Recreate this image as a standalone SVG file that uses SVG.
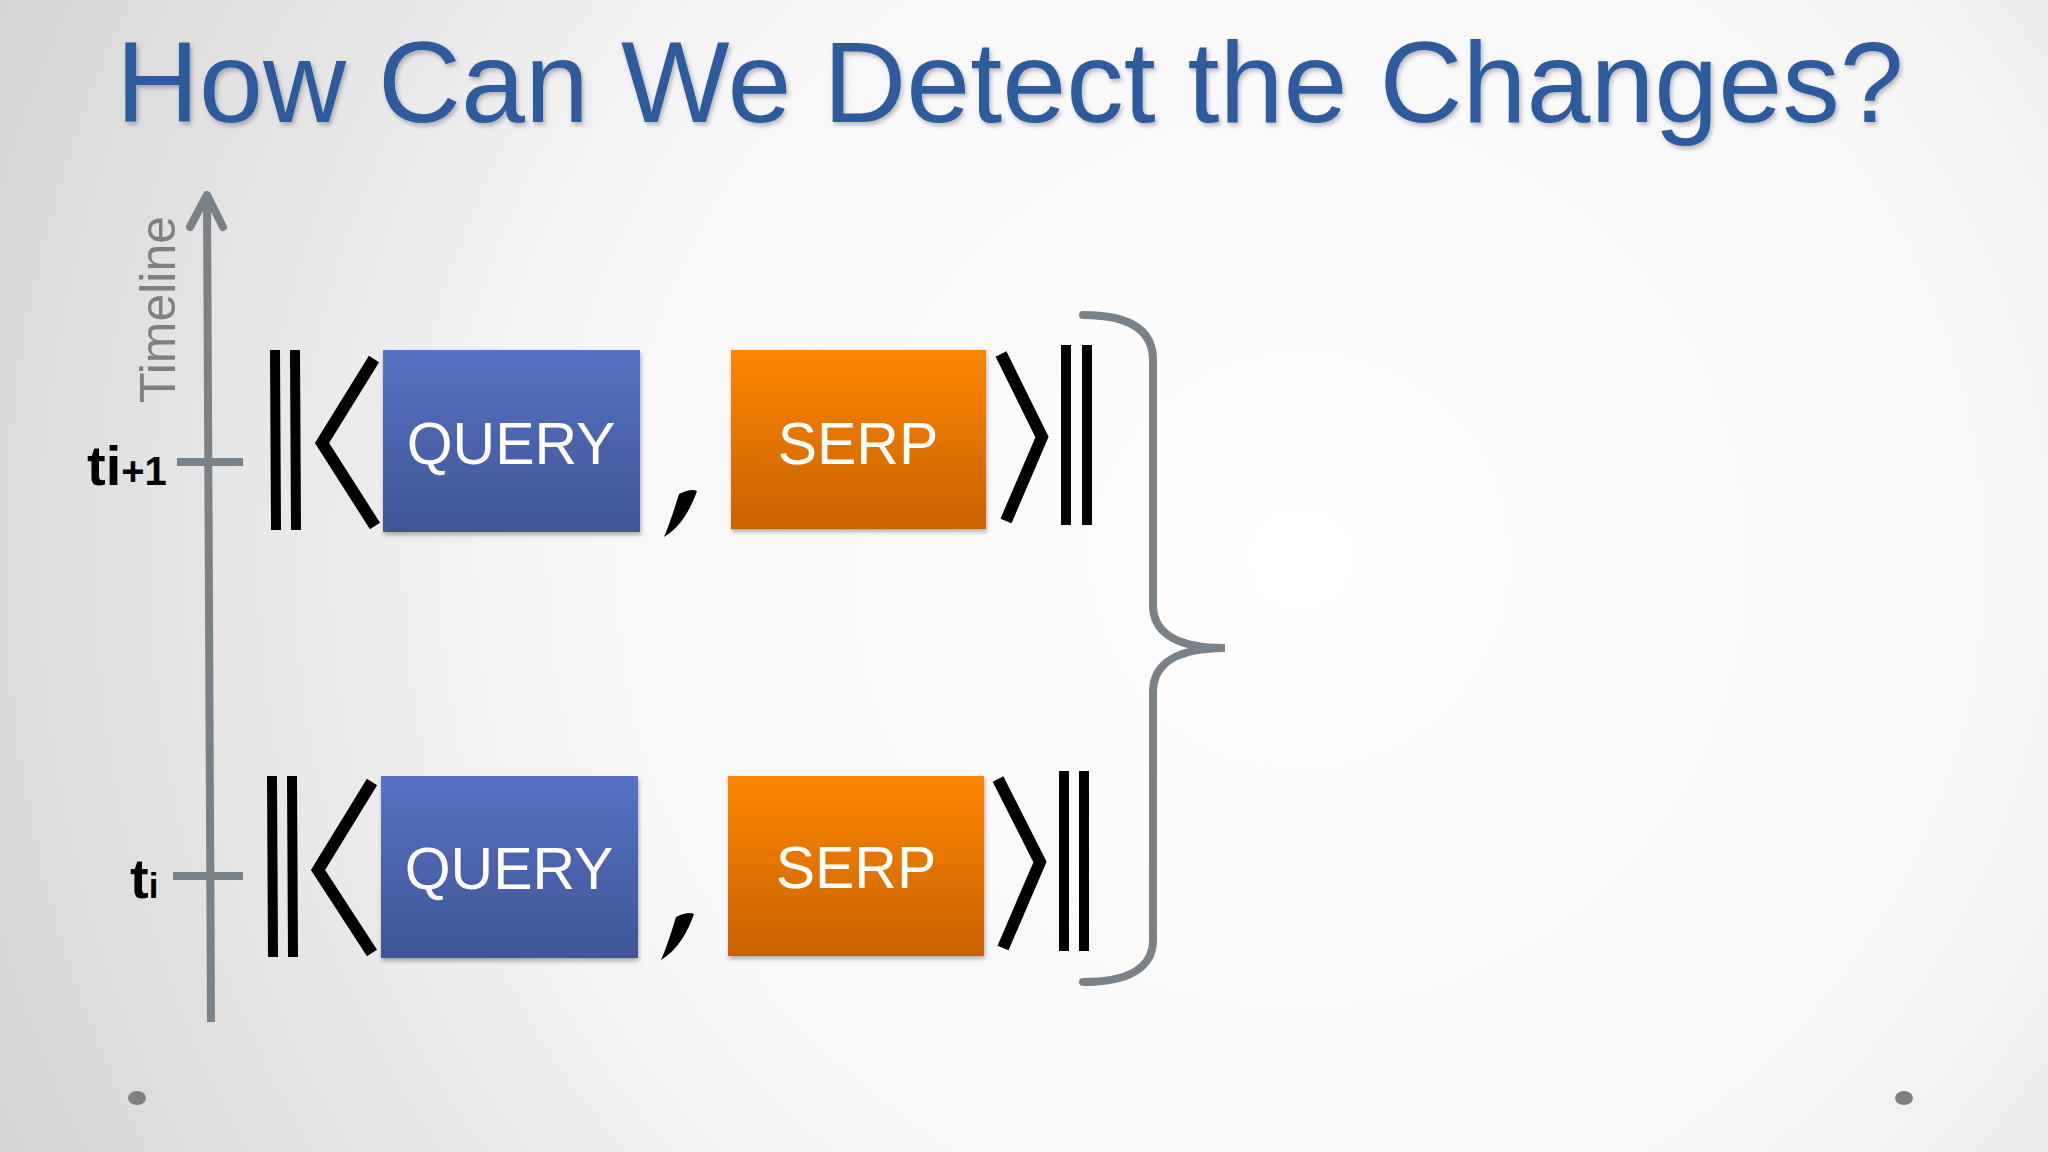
<svg xmlns="http://www.w3.org/2000/svg" width="2048" height="1152" viewBox="0 0 2048 1152">
<defs>
<radialGradient id="bg" cx="1300" cy="560" r="1450" gradientUnits="userSpaceOnUse">
<stop offset="0" stop-color="#ffffff"/>
<stop offset="0.5" stop-color="#f7f7f7"/>
<stop offset="1" stop-color="#d4d4d4"/>
</radialGradient>
<linearGradient id="blue" x1="0" y1="0" x2="0" y2="1">
<stop offset="0" stop-color="#5672c2"/>
<stop offset="1" stop-color="#3f5595"/>
</linearGradient>
<linearGradient id="orange" x1="0" y1="0" x2="0" y2="1">
<stop offset="0" stop-color="#ff8602"/>
<stop offset="1" stop-color="#c66200"/>
</linearGradient>
<filter id="sh" x="-10%" y="-10%" width="130%" height="130%">
<feDropShadow dx="1" dy="3" stdDeviation="2" flood-color="#000" flood-opacity="0.3"/>
</filter>
<filter id="tsh" x="-5%" y="-10%" width="110%" height="130%">
<feDropShadow dx="2" dy="3" stdDeviation="2" flood-color="#000" flood-opacity="0.25"/>
</filter>
</defs>
<style>
.title{font-family:"Liberation Sans",Arial,sans-serif;font-size:115px;fill:#2f5a9e}
.box{font-family:"Liberation Sans",Arial,sans-serif;font-size:59px;fill:#ffffff;text-anchor:middle}
.lbl{font-family:"Liberation Sans",Arial,sans-serif;font-weight:bold;fill:#000}
.tl{font-family:"Liberation Sans",Arial,sans-serif;font-size:50px;fill:#808080}
.bar{stroke:#000;stroke-width:10;fill:none}
.ang{stroke:#000;stroke-width:12;fill:none;stroke-linejoin:miter}
.gray{stroke:#7a8187;fill:none;stroke-width:8}
.dot{fill:#7f7f7f}
</style>
<rect width="2048" height="1152" fill="url(#bg)"/>
<text class="title" x="116" y="122" filter="url(#tsh)">How Can We Detect the Changes?</text>
<g id="connectors">
<g id="timeline-axis">
<line class="gray" x1="207" y1="197" x2="211" y2="1022"/>
<polyline class="gray" points="190,227 207,195 223,227" stroke-linecap="round" stroke-linejoin="round"/>
<line class="gray" x1="177" y1="462" x2="243" y2="462" stroke-width="9"/>
<line class="gray" x1="173" y1="876" x2="243" y2="876" stroke-width="9"/>
</g>
<path id="brace" class="gray" stroke-width="9" stroke-linecap="round" d="M1083,315 C1130,315 1153,330 1153,360 L1153,605 C1153,635 1180,648 1225,648 C1180,648 1153,662 1153,692 L1153,940 C1153,968 1128,982 1083,982"/>
</g>
<g id="timeline-label">
<text class="tl" transform="translate(175,403) rotate(-90)">Timeline</text>
</g>
<g id="label-ti1">
<text class="lbl" x="87" y="485"><tspan font-size="56">ti</tspan><tspan font-size="40">+1</tspan></text>
</g>
<g id="label-ti">
<text class="lbl" x="130" y="898"><tspan font-size="56">t</tspan><tspan font-size="35">i</tspan></text>
</g>
<g id="row1">
<g id="open1">
<line class="bar" x1="275" y1="350" x2="276" y2="530"/>
<line class="bar" x1="295" y1="350" x2="296" y2="530"/>
<polyline class="ang" points="374,359 322,443 375,526"/>
</g>
<g id="query1">
<rect x="383" y="350" width="257" height="182" fill="url(#blue)" filter="url(#sh)"/>
<text class="box" x="511" y="464">QUERY</text>
</g>
<path id="comma1" d="M679,494 C687,490 693,489 697,491 C691,508 681,527 664,537 C670,523 675,507 679,494 Z" fill="#000"/>
<g id="serp1">
<rect x="731" y="350" width="255" height="179" fill="url(#orange)" filter="url(#sh)"/>
<text class="box" x="858" y="464">SERP</text>
</g>
<g id="close1">
<polyline class="ang" points="1001,354 1042,437 1006,521"/>
<line class="bar" x1="1066" y1="345" x2="1066" y2="525"/>
<line class="bar" x1="1087" y1="345" x2="1087" y2="525"/>
</g>
</g>
<g id="row2">
<g id="open2">
<line class="bar" x1="272" y1="776" x2="273" y2="957"/>
<line class="bar" x1="292" y1="776" x2="293" y2="957"/>
<polyline class="ang" points="372,782 318,870 372,953"/>
</g>
<g id="query2">
<rect x="381" y="776" width="257" height="182" fill="url(#blue)" filter="url(#sh)"/>
<text class="box" x="509" y="889">QUERY</text>
</g>
<path id="comma2" d="M676,917 C684,913 690,912 694,914 C688,931 678,950 661,960 C667,946 672,930 676,917 Z" fill="#000"/>
<g id="serp2">
<rect x="728" y="776" width="256" height="180" fill="url(#orange)" filter="url(#sh)"/>
<text class="box" x="856" y="888">SERP</text>
</g>
<g id="close2">
<polyline class="ang" points="998,779 1040,862 1003,948"/>
<line class="bar" x1="1064" y1="771" x2="1064" y2="951"/>
<line class="bar" x1="1084" y1="771" x2="1084" y2="951"/>
</g>
</g>
<ellipse class="dot" cx="137" cy="1098" rx="9" ry="7"/>
<ellipse class="dot" cx="1904" cy="1098" rx="9" ry="7"/>
</svg>
